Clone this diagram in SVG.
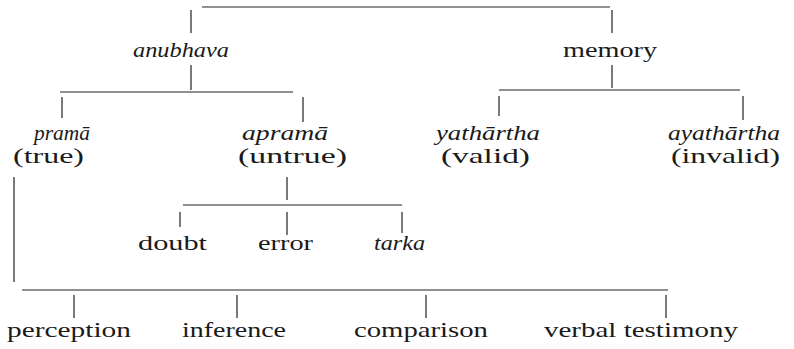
<svg xmlns="http://www.w3.org/2000/svg" width="794" height="349" viewBox="0 0 794 349">
  <style>
    text { font-family: 'Liberation Serif', serif; font-size: 22px; fill: #1a1a1a; }
    .i { font-style: italic; }
    .ln { stroke: #222; stroke-width: 1.2; fill: none; stroke-linecap: butt; }
  </style>
  <rect width="794" height="349" fill="#fff"/>

  <g id="connectors" class="ln">
    <!-- root bracket -->
    <path d="M202 7H610M191 10V33M612 10V33"/>
    <!-- anubhava split -->
    <path d="M191 65V90M60 92H293M62 97V118M303 97V122"/>
    <!-- memory split -->
    <path d="M612 65V88M499 90H740M499 96V116M743 96V120"/>
    <!-- apramā split -->
    <path d="M287 177V200M183 205H402M180 212V227M287 212V235M402 212V233"/>
    <!-- pramā: sources of knowledge -->
    <path d="M14 177V282M22 290H668M74 295V318M237 295V318M426 295V318M666 295V318"/>
  </g>

  <g id="anubhava"><text class="i" x="133" y="57" textLength="96" lengthAdjust="spacingAndGlyphs">anubhava</text></g>
  <g id="memory"><text x="563" y="57" textLength="94" lengthAdjust="spacingAndGlyphs">memory</text></g>

  <g id="prama">
    <text class="i" x="34" y="140" textLength="56" lengthAdjust="spacingAndGlyphs">pramā</text>
    <text x="13" y="163" textLength="71" lengthAdjust="spacingAndGlyphs">(true)</text>
  </g>
  <g id="aprama">
    <text class="i" x="242" y="140" textLength="86" lengthAdjust="spacingAndGlyphs">apramā</text>
    <text x="238" y="163" textLength="109" lengthAdjust="spacingAndGlyphs">(untrue)</text>
  </g>
  <g id="yathartha">
    <text class="i" x="436" y="140" textLength="104" lengthAdjust="spacingAndGlyphs">yathārtha</text>
    <text x="441" y="163" textLength="89" lengthAdjust="spacingAndGlyphs">(valid)</text>
  </g>
  <g id="ayathartha">
    <text class="i" x="668" y="140" textLength="112" lengthAdjust="spacingAndGlyphs">ayathārtha</text>
    <text x="671" y="163" textLength="109" lengthAdjust="spacingAndGlyphs">(invalid)</text>
  </g>

  <g id="doubt"><text x="138" y="250" textLength="69" lengthAdjust="spacingAndGlyphs">doubt</text></g>
  <g id="error"><text x="258" y="250" textLength="55" lengthAdjust="spacingAndGlyphs">error</text></g>
  <g id="tarka"><text class="i" x="374" y="250" textLength="51" lengthAdjust="spacingAndGlyphs">tarka</text></g>

  <g id="perception"><text x="7" y="337" textLength="124" lengthAdjust="spacingAndGlyphs">perception</text></g>
  <g id="inference"><text x="182" y="337" textLength="104" lengthAdjust="spacingAndGlyphs">inference</text></g>
  <g id="comparison"><text x="354" y="337" textLength="134" lengthAdjust="spacingAndGlyphs">comparison</text></g>
  <g id="verbal-testimony"><text x="544" y="337" textLength="194" lengthAdjust="spacingAndGlyphs">verbal testimony</text></g>
</svg>
